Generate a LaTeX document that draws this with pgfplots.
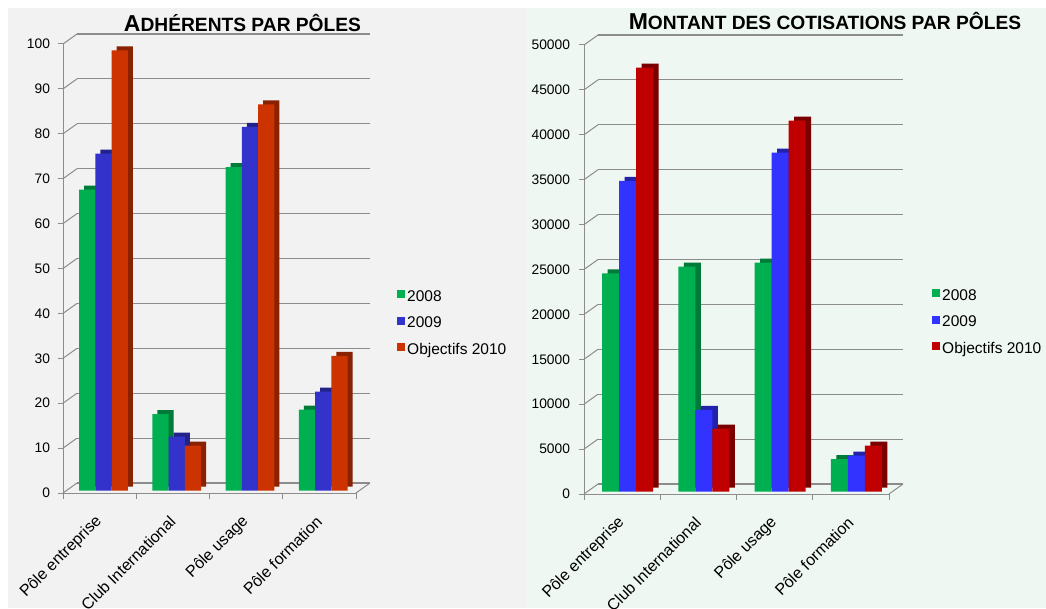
\documentclass[border=0pt]{standalone}
\usepackage{pgfplots}
\pgfplotsset{compat=1.18}
\usepackage{fontspec}
\setmainfont{Liberation Sans}
\definecolor{bgL}{HTML}{F2F2F2}
\definecolor{bgR}{HTML}{EEF7F1}
\definecolor{gL}{HTML}{00B050}
\definecolor{gLd}{HTML}{007A38}
\definecolor{bL}{HTML}{3333CC}
\definecolor{bLd}{HTML}{22228A}
\definecolor{rL}{HTML}{CC3300}
\definecolor{rLd}{HTML}{882200}
\definecolor{bR}{HTML}{3333FF}
\definecolor{bRd}{HTML}{2222AA}
\definecolor{rR}{HTML}{C00000}
\definecolor{rRd}{HTML}{7A0000}
\definecolor{gridc}{HTML}{8C8C8C}
\pgfplotsset{
  common/.style={
    scale only axis, clip=false,
    xmin=-0.5, xmax=3.5, ymin=0,
    axis lines*=left,
    axis line style={gridc, line width=1pt},
    tick align=outside, tick pos=left,
    major tick length=5.5pt,
    tick style={gridc, line width=1pt},
    xtick={-0.5,0.5,1.5,2.5,3.5}, xticklabels={},
    extra x ticks={0,1,2,3},
    extra x tick labels={Pôle entreprise, Club International, Pôle usage, Pôle formation},
    extra x tick style={major tick length=0pt, grid=none},
    xticklabel style={yshift=-25pt, xshift=0.5pt, rotate=45, anchor=east, font=\fontsize{16}{18}\selectfont, text=black, inner sep=1pt},
    yticklabel style={font=\fontsize{13.8}{16}\selectfont, text=black, xshift=-4pt},
    /pgf/number format/assume math mode=true,
    ymajorgrids,
    legend cell align=left,
    legend image code/.code={\fill[##1] (0pt,-4pt) rectangle (8pt,4pt);},
  },
}
\begin{document}
\begin{tikzpicture}[x=1pt,y=1pt]
\useasboundingbox (0,0) rectangle (1046,608);
\fill[white] (0,0) rectangle (1046,608);
\fill[bgL] (8,0) rectangle (527,600);
\fill[bgR] (527,0) rectangle (1046,600);
\node[font=\bfseries] at (242.5,585) {\fontsize{23}{23}\selectfont A\fontsize{19.2}{19.2}\selectfont DHÉRENTS PAR PÔLES};
\node[font=\bfseries] at (825,587) {\fontsize{23}{23}\selectfont M\fontsize{19.2}{19.2}\selectfont ONTANT DES COTISATIONS PAR PÔLES};

\begin{axis}[common,
  at={(63pt,115pt)}, anchor=south west, width=293pt, height=449pt,
  ymax=100, ytick={0,10,...,100},
  major grid style={gridc, line width=1.2pt, xshift=14pt, yshift=10pt},
  legend style={draw=none, fill=none, at={(1.140,0.378)}, anchor=west, font=\fontsize{15.5}{18}\selectfont, row sep=10pt, inner sep=0pt, /tikz/every even column/.append style={column sep=0pt}},
]
\pgfplotsinvokeforeach{0,10,20,30,40,50,60,70,80,90,100}{\draw[gridc, line width=1pt] (axis cs:-0.5,#1) -- ++(14pt,10pt);}
\draw[gridc, line width=1pt] (axis cs:3.5,0) -- ++(14pt,10pt);
\addplot[ybar, bar width=16.2pt, bar shift=-12.3pt, fill=gLd, draw=none, xshift=5pt, yshift=6.5pt, forget plot] coordinates {(0,67) (1,17) (2,72) (3,18)};
\addplot[ybar, bar width=16.2pt, bar shift=-12.3pt, fill=gL, draw=none, yshift=2.5pt] coordinates {(0,67) (1,17) (2,72) (3,18)};
\addlegendentry{2008}
\addplot[ybar, bar width=16.2pt, bar shift=3.9pt, fill=bLd, draw=none, xshift=5pt, yshift=6.5pt, forget plot] coordinates {(0,75) (1,12) (2,81) (3,22)};
\addplot[ybar, bar width=16.2pt, bar shift=3.9pt, fill=bL, draw=none, yshift=2.5pt] coordinates {(0,75) (1,12) (2,81) (3,22)};
\addlegendentry{2009}
\addplot[ybar, bar width=16.2pt, bar shift=20.1pt, fill=rLd, draw=none, xshift=5pt, yshift=6.5pt, forget plot] coordinates {(0,98) (1,10) (2,86) (3,30)};
\addplot[ybar, bar width=16.2pt, bar shift=20.1pt, fill=rL, draw=none, yshift=2.5pt] coordinates {(0,98) (1,10) (2,86) (3,30)};
\addlegendentry{Objectifs 2010}
\end{axis}

\begin{axis}[common,
  at={(584pt,114pt)}, anchor=south west, width=305pt, height=449pt,
  ymax=50000, ytick={0,5000,10000,15000,20000,25000,30000,35000,40000,45000,50000},
  scaled y ticks=false,
  yticklabel style={/pgf/number format/fixed, /pgf/number format/1000 sep={}, xshift=-1pt},
  major grid style={gridc, line width=1.2pt, xshift=14pt, yshift=10pt},
  legend style={draw=none, fill=none, at={(1.141,0.382)}, anchor=west, font=\fontsize{15.5}{18}\selectfont, row sep=10pt, inner sep=0pt, /tikz/every even column/.append style={column sep=0pt}},
]
\pgfplotsinvokeforeach{0,5000,10000,15000,20000,25000,30000,35000,40000,45000,50000}{\draw[gridc, line width=1pt] (axis cs:-0.5,#1) -- ++(14pt,10pt);}
\draw[gridc, line width=1pt] (axis cs:3.5,0) -- ++(14pt,10pt);
\addplot[ybar, bar width=17pt, bar shift=-11.6pt, fill=gLd, draw=none, xshift=5.5pt, yshift=6.5pt, forget plot] coordinates {(0,24300) (1,25050) (2,25500) (3,3600)};
\addplot[ybar, bar width=17pt, bar shift=-11.6pt, fill=gL, draw=none, yshift=2.5pt] coordinates {(0,24300) (1,25050) (2,25500) (3,3600)};
\addlegendentry{2008}
\addplot[ybar, bar width=17pt, bar shift=5.4pt, fill=bRd, draw=none, xshift=5.5pt, yshift=6.5pt, forget plot] coordinates {(0,34600) (1,9100) (2,37750) (3,4000)};
\addplot[ybar, bar width=17pt, bar shift=5.4pt, fill=bR, draw=none, yshift=2.5pt] coordinates {(0,34600) (1,9100) (2,37750) (3,4000)};
\addlegendentry{2009}
\addplot[ybar, bar width=17pt, bar shift=22.4pt, fill=rRd, draw=none, xshift=5.5pt, yshift=6.5pt, forget plot] coordinates {(0,47200) (1,7000) (2,41300) (3,5100)};
\addplot[ybar, bar width=17pt, bar shift=22.4pt, fill=rR, draw=none, yshift=2.5pt] coordinates {(0,47200) (1,7000) (2,41300) (3,5100)};
\addlegendentry{Objectifs 2010}
\end{axis}
\end{tikzpicture}
\end{document}
